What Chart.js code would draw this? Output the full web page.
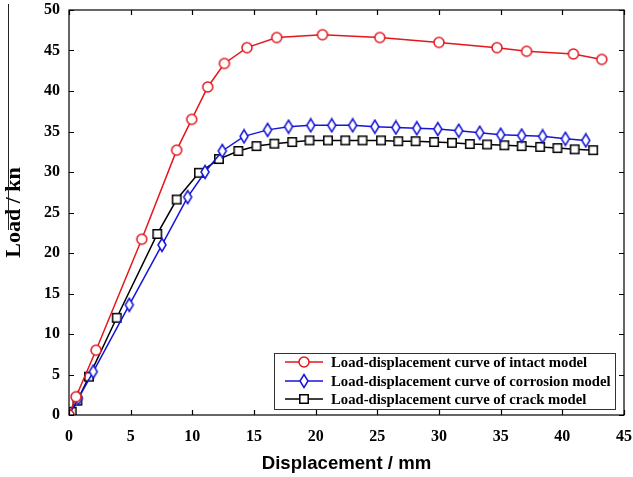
<!DOCTYPE html>
<html>
<head>
<meta charset="utf-8">
<script src="https://cdn.jsdelivr.net/npm/chart.js@4"></script>
<style>
  html, body { margin: 0; padding: 0; background: #fff; }
  #graf { display: block; }
</style>
</head>
<body>
<canvas id="graf" width="633" height="477"></canvas>
<script>
const intactX = [0, 0.57, 2.19, 5.9, 8.73, 9.95, 11.25, 12.6, 14.43, 16.84, 20.55, 25.2, 30.0, 34.7, 37.1, 40.9, 43.2]
const intactY = [0, 2.26, 8.0, 21.7, 32.7, 36.5, 40.5, 43.4, 45.35, 46.6, 46.95, 46.6, 46.0, 45.35, 44.9, 44.57, 43.9]

const corrX = [0, 0.76, 1.97, 4.89, 7.54, 9.62, 11.03, 12.43, 14.19, 16.1, 17.8, 19.6, 21.3, 23.0, 24.8, 26.5, 28.2, 29.9, 31.6, 33.3, 35.0, 36.7, 38.4, 40.25, 41.9]
const corrY = [0, 2.06, 5.35, 13.6, 21.0, 26.9, 30.0, 32.6, 34.4, 35.2, 35.6, 35.76, 35.76, 35.76, 35.6, 35.5, 35.4, 35.3, 35.1, 34.85, 34.6, 34.5, 34.4, 34.1, 33.9]

const crackX = [0, 0.22, 0.68, 1.62, 3.87, 7.16, 8.73, 10.54, 12.16, 13.73, 15.2, 16.65, 18.1, 19.5, 21.0, 22.4, 23.8, 25.3, 26.7, 28.1, 29.6, 31.05, 32.5, 33.9, 35.3, 36.7, 38.2, 39.6, 41.0, 42.5]
const crackY = [0, 0.4, 1.77, 4.73, 12.0, 22.35, 26.6, 29.9, 31.6, 32.6, 33.2, 33.5, 33.7, 33.9, 33.9, 33.9, 33.9, 33.9, 33.8, 33.8, 33.7, 33.6, 33.45, 33.4, 33.3, 33.2, 33.1, 32.95, 32.8, 32.7]

const nomes = [
    'Load-displacement curve of intact model',
    'Load-displacement curve of corrosion model',
    'Load-displacement curve of crack model'
]

const fonte = 'Liberation Serif'
const vermelho = '#e3171c'
const azul = '#1515d8'
const preto = '#000000'

// marcadores desenhados num canvas pequeno
function marcador(tipo, cor) {
    const c = document.createElement('canvas')
    c.width = 16
    c.height = 16
    const ctx = c.getContext('2d')
    ctx.strokeStyle = cor
    ctx.fillStyle = '#fff'
    ctx.lineWidth = 1.5
    ctx.beginPath()
    if (tipo === 'circulo') {
        ctx.arc(8, 8, 5, 0, Math.PI * 2)
    } else if (tipo === 'losango') {
        ctx.moveTo(8, 1.5)
        ctx.lineTo(12, 8)
        ctx.lineTo(8, 14.5)
        ctx.lineTo(4, 8)
        ctx.closePath()
    } else {
        ctx.rect(3.8, 3.8, 8.4, 8.4)
    }
    ctx.fill()
    ctx.stroke()
    return c
}

const pontos = (xs, ys) => xs.map((x, i) => ({ x: x, y: ys[i] }))

const graf = document.getElementById('graf')

const moldura = {
    id: 'moldura',
    afterDatasetsDraw(chart) {
        const ctx = chart.ctx
        const a = chart.chartArea
        const sx = chart.scales.x
        const sy = chart.scales.y
        ctx.save()
        ctx.strokeStyle = '#000'
        ctx.lineWidth = 1.2
        ctx.strokeRect(a.left, a.top, a.right - a.left, a.bottom - a.top)
        ctx.beginPath()
        sx.ticks.forEach(t => {
            const px = Math.round(sx.getPixelForValue(t.value)) + 0.5
            ctx.moveTo(px, a.bottom); ctx.lineTo(px, a.bottom - 5)
            ctx.moveTo(px, a.top); ctx.lineTo(px, a.top + 5)
        })
        sy.ticks.forEach(t => {
            const py = Math.round(sy.getPixelForValue(t.value)) + 0.5
            ctx.moveTo(a.left, py); ctx.lineTo(a.left + 5, py)
            ctx.moveTo(a.right, py); ctx.lineTo(a.right - 5, py)
        })
        ctx.stroke()

        // traço solto no canto esquerdo da figura original
        ctx.strokeStyle = '#222'
        ctx.lineWidth = 1
        ctx.beginPath()
        ctx.moveTo(8.5, 4)
        ctx.lineTo(8.5, 230)
        ctx.stroke()

        // legenda dentro da area
        const lx = 274, ly = 353, lw = 341, lh = 56
        ctx.fillStyle = '#fff'
        ctx.fillRect(lx, ly, lw, lh)
        ctx.strokeStyle = '#333'
        ctx.lineWidth = 1
        ctx.strokeRect(lx + 0.5, ly + 0.5, lw, lh)
        const linhas = [362, 381, 399]
        chart.data.datasets.forEach((ds, i) => {
            const y = linhas[i]
            ctx.strokeStyle = ds.borderColor
            ctx.lineWidth = 1.5
            ctx.beginPath()
            ctx.moveTo(285, y)
            ctx.lineTo(323, y)
            ctx.stroke()
            const img = ds.pointStyle
            ctx.drawImage(img, 304 - img.width / 2, y - img.height / 2)
            ctx.fillStyle = '#000'
            ctx.font = 'bold 14.7px "' + fonte + '"'
            ctx.textBaseline = 'middle'
            ctx.textAlign = 'left'
            ctx.fillText(ds.label, 331, y + 1)
        })
        ctx.restore()
    }
}

new Chart(graf, {
    type: 'line',
    data: {
        datasets: [
            {
                label: nomes[0],
                data: pontos(intactX, intactY),
                borderColor: vermelho,
                borderWidth: 1.5,
                pointStyle: marcador('circulo', vermelho),
                tension: 0
            },
            {
                label: nomes[1],
                data: pontos(corrX, corrY),
                borderColor: azul,
                borderWidth: 1.5,
                pointStyle: marcador('losango', azul),
                tension: 0
            },
            {
                label: nomes[2],
                data: pontos(crackX, crackY),
                borderColor: preto,
                borderWidth: 1.5,
                pointStyle: marcador('quadrado', preto),
                tension: 0
            }
        ]
    },
    options: {
        responsive: false,
        animation: false,
        layout: { padding: { top: 10, right: 9, left: 0, bottom: 0 } },
        plugins: {
            legend: { display: false },
            tooltip: { enabled: false }
        },
        scales: {
            x: {
                type: 'linear',
                min: 0,
                max: 45,
                ticks: { stepSize: 5, padding: 12, color: '#000', font: { family: fonte, size: 16, weight: 'bold' }, maxRotation: 0 },
                grid: { display: false, drawTicks: false },
                border: { display: false },
                title: { display: true, text: 'Displacement / mm', color: '#000', font: { family: 'Liberation Sans', size: 18.6, weight: 'bold' }, padding: { top: 0, bottom: 2 } },
                afterFit: s => { s.height = 62; s.paddingLeft = 0; s.paddingRight = 0 }
            },
            y: {
                min: 0,
                max: 50,
                ticks: { stepSize: 5, padding: 9, color: '#000', font: { family: fonte, size: 16, weight: 'bold' } },
                grid: { display: false, drawTicks: false },
                border: { display: false },
                title: { display: true, text: 'Load / kn', color: '#000', font: { family: fonte, size: 22, weight: 'bold' }, padding: { top: 1, bottom: 0 } },
                afterFit: s => { s.width = 69; s.paddingTop = 0; s.paddingBottom = 0 }
            }
        }
    },
    plugins: [moldura]
})
</script>
</body>
</html>
